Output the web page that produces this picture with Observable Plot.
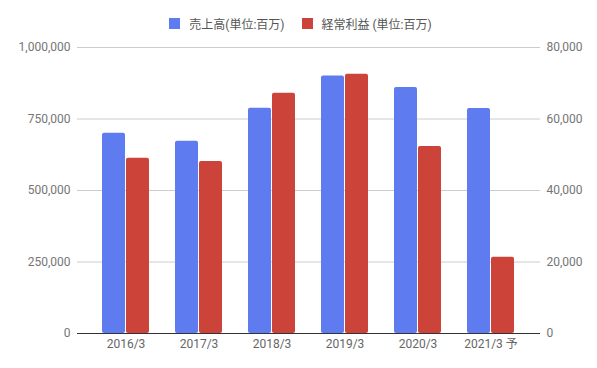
<!DOCTYPE html>
<html>
<head>
<meta charset="utf-8">
<script src="https://cdn.jsdelivr.net/npm/d3@7"></script>
<script src="https://cdn.jsdelivr.net/npm/@observablehq/plot@0.6"></script>
<style>
  html, body { margin: 0; padding: 0; background: #fff; }
  #wrap { position: relative; width: 597px; height: 368px; }
  #legend { position: absolute; left: 2px; top: 0; width: 597px; height: 47px;
    display: flex; justify-content: center; align-items: center;
    font-family: Roboto, "Noto Sans CJK JP", sans-serif; font-size: 12px; color: #555; }
  .item { display: flex; align-items: center; margin: 0 8.5px; }
  .sw { width: 11px; height: 11px; margin-right: 9px; }
</style>
</head>
<body>
<div id="wrap"><div id="legend"></div></div>
<script>
const categories = ["2016/3", "2017/3", "2018/3", "2019/3", "2020/3", "2021/3 予"];
const sales = [700000, 672000, 788000, 900000, 860000, 787000];
const profit = [49000, 48100, 67200, 72500, 52300, 21300];
const salesTicks = [0, 250000, 500000, 750000, 1000000];
const profitTicks = [0, 20000, 40000, 60000, 80000];
const seriesNames = ["売上高(単位:百万)", "経常利益 (単位:百万)"];

const colors = ["#5e7cf0", "#cc4339"];
const ratio = salesTicks[salesTicks.length - 1] / profitTicks[profitTicks.length - 1];
const table = categories.map((c, i) => ({cat: c, sales: sales[i], profit: profit[i]}));
const fmt = d3.format(",");

const legend = document.getElementById("legend");
seriesNames.forEach((n, i) => {
  const it = document.createElement("div");
  it.className = "item";
  it.innerHTML = `<div class="sw" style="background:${colors[i]}"></div><span>${n}</span>`;
  legend.appendChild(it);
});

const plot = Plot.plot({
  width: 597,
  height: 368,
  marginTop: 47,
  marginBottom: 35,
  marginLeft: 77,
  marginRight: 57,
  style: {fontFamily: 'Roboto, "Noto Sans CJK JP", sans-serif', fontSize: "12px", color: "#757575", background: "transparent"},
  x: {domain: categories, paddingInner: 0.354, paddingOuter: 0.33, label: null},
  y: {domain: [0, salesTicks[salesTicks.length - 1]], label: null},
  marks: [
    Plot.ruleY(salesTicks.slice(1), {stroke: "#cccccc"}),
    Plot.barY(table, {x: "cat", y: "sales", fill: colors[0], insetRight: 24, rx: 2}),
    Plot.barY(table, {x: "cat", y: d => d.profit * ratio, fill: colors[1], insetLeft: 24, rx: 2}),
    Plot.ruleY([0], {stroke: "#333"}),
    Plot.axisX({tickSize: 0, tickPadding: 6, fontSize: 12, color: "#666"}),
    Plot.axisY({anchor: "left", ticks: salesTicks, tickSize: 0, tickPadding: 7, tickFormat: fmt, label: null}),
    Plot.axisY({anchor: "right", ticks: salesTicks, tickSize: 0, tickPadding: 6, tickFormat: d => fmt(d / ratio), label: null})
  ]
});
document.getElementById("wrap").insertBefore(plot, legend);
</script>
</body>
</html>
